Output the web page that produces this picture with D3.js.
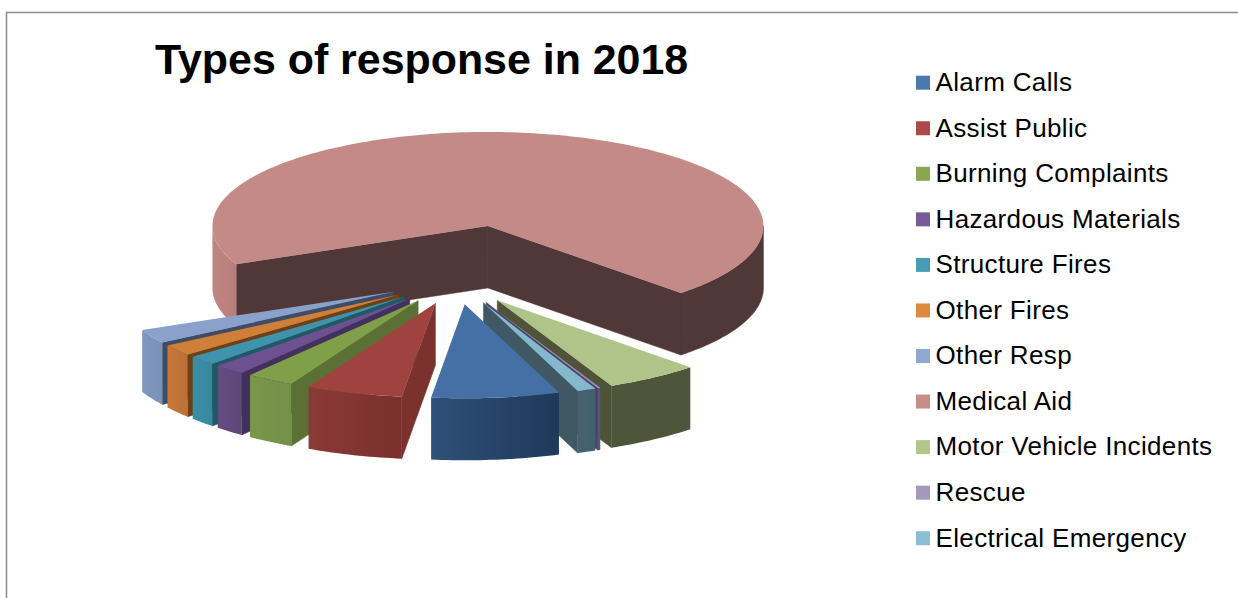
<!DOCTYPE html>
<html>
<head>
<meta charset="utf-8">
<script src="https://cdn.jsdelivr.net/npm/d3@7"></script>
<style>
  html, body { margin: 0; padding: 0; background: #fff; }
  svg { display: block; }
  text { font-family: "Liberation Sans", Arial, sans-serif; fill: #000; }
</style>
</head>
<body>
<svg id="chart" width="1238" height="598"></svg>
<script>
// Share of fire department responses by type, percent of all calls
const categories = ["Alarm Calls", "Assist Public", "Burning Complaints", "Hazardous Materials",
  "Structure Fires", "Other Fires", "Other Resp", "Medical Aid", "Motor Vehicle Incidents",
  "Rescue", "Electrical Emergency"];
const shares = [7.5, 5.67, 2.83, 1.83, 1.65, 1.96, 2.44, 69.3, 5.55, 0.15, 1.1];
const chartTitle = "Types of response in 2018";

// Slice pull-out, as a fraction of the radius
const explode = [0.26, 0.26, 0.26, 0.26, 0.26, 0.26, 0.26, 0.585, 0.26, 0.26, 0.26];

// Legend swatch, lit top, outer wall (light to dark) and cut face colours
const legendColors = ["#4a79ad", "#ad4a47", "#8ba650", "#775a99", "#479cb5", "#db8a3e", "#8fa8d0", "#c78d8a", "#b2c78d", "#a598bc", "#8bbed2"];
const topColors    = ["#4470a5", "#a04240", "#7f9f49", "#6d5090", "#3f93ad", "#cf7f38", "#89a1cb", "#c48a87", "#b0c48a", "#9b8fb5", "#86b8cd"];
const wallStart    = ["#2e5079", "#8a3a37", "#7a9648", "#644c80", "#3a8ea6", "#c7773a", "#7f97bf", "#c08684", "#4f553b", "#5a5478", "#466270"];
const wallEnd      = ["#1f3959", "#7a302d", "#74904a", "#5f4779", "#37889f", "#bd7035", "#7a92b8", "#b87e7c", "#4f553b", "#5a5478", "#42606c"];
const faceColors   = ["#2e5079", "#7b322f", "#5a7035", "#43305f", "#1f5967", "#6e4018", "#3f4c66", "#513838", "#4e533a", "#4a4468", "#3f5863"];

// Elliptical footprint of the tilted pie; lean skews pulled-out slices sideways with distance
const center = { x: 457, y: 280 };
const rx = 275.5, ry = 94, depth = 62, lean = 1.5;

const pie = d3.pie().sort(null).startAngle(160 * Math.PI / 180).endAngle(520 * Math.PI / 180);
const arcs = pie(shares);

const line = d3.line();
const svg = d3.select("#chart");
const defs = svg.append("defs");

// Chart frame, open at the lower right of the page
svg.append("path")
  .attr("d", "M6.5,598V12.5H1238")
  .attr("fill", "none").attr("stroke", "#8a8a8a").attr("stroke-width", 1.5);

svg.append("text")
  .attr("x", 155).attr("y", 73.5)
  .attr("font-size", 42.9).attr("font-weight", 700)
  .text(chartTitle);

categories.forEach((name, i) => {
  const grad = defs.append("linearGradient").attr("id", "wall" + i);
  grad.append("stop").attr("offset", 0).attr("stop-color", wallStart[i]);
  grad.append("stop").attr("offset", 1).attr("stop-color", wallEnd[i]);
});

// Point on the tilted plane for a clockwise-from-top angle
function place(o, a, r) {
  return [o.x + r * Math.sin(a) * rx, o.y - r * Math.cos(a) * ry];
}
function rim(o, a0, a1) {
  const n = Math.max(2, Math.ceil((a1 - a0) / 0.02));
  return d3.range(n + 1).map(k => place(o, a0 + (a1 - a0) * k / n, 1));
}
const shift = p => [p[0], p[1] + depth];

// Far slices first so that nearer ones paint over them
const paintOrder = [7, 6, 5, 4, 3, 2, 1, 8, 9, 10, 0];
const pieGroup = svg.append("g");

paintOrder.forEach(i => {
  const d = arcs[i];
  const mid = (d.startAngle + d.endAngle) / 2;
  const o = {
    x: center.x + explode[i] * (Math.sin(mid) * rx + lean * Math.cos(mid)),
    y: center.y - explode[i] * Math.cos(mid) * ry
  };
  const g = pieGroup.append("g").attr("class", "slice");
  const apex = [o.x, o.y];
  const startPt = place(o, d.startAngle, 1);
  const endPt = place(o, d.endAngle, 1);

  // Cut faces that turn toward the viewer; a hairline stroke closes seams between shapes
  const quad = p => line([apex, p, shift(p), shift(apex)]) + "Z";
  const face = p => g.append("path").attr("d", quad(p))
    .attr("fill", faceColors[i]).attr("stroke", faceColors[i]).attr("stroke-width", 0.5);
  if (Math.sin(d.startAngle) < 0) face(startPt);
  if (Math.sin(d.endAngle) > 0) face(endPt);

  // Outer wall along the front half of the ellipse
  [[Math.PI / 2, 1.5 * Math.PI], [2.5 * Math.PI, 3.5 * Math.PI]].forEach(([lo, hi]) => {
    const a0 = Math.max(lo, d.startAngle), a1 = Math.min(hi, d.endAngle);
    if (a1 <= a0) return;
    const top = rim(o, a0, a1);
    const inShade = i === 7 && lo > 2 * Math.PI;
    const wall = g.append("path")
      .attr("d", line(top.concat(top.map(shift).reverse())) + "Z")
      .attr("fill", inShade ? faceColors[i] : `url(#wall${i})`);
    if (inShade) wall.attr("stroke", faceColors[i]).attr("stroke-width", 0.5);
  });

  // Top surface
  g.append("path")
    .attr("d", line([apex].concat(rim(o, d.startAngle, d.endAngle))) + "Z")
    .attr("fill", topColors[i]);
});

// Legend column
const legendY = d3.scalePoint().domain(categories).range([82.7, 538.2]);
const legend = svg.append("g").selectAll("g").data(categories).join("g")
  .attr("transform", d => `translate(916,${legendY(d)})`);
legend.append("rect")
  .attr("x", 0).attr("y", -7).attr("width", 14).attr("height", 14)
  .attr("fill", (d, i) => legendColors[i]);
legend.append("text")
  .attr("x", 19.5).attr("y", 8.3)
  .attr("font-size", 26).attr("letter-spacing", 0.35)
  .text(d => d);
</script>
</body>
</html>
